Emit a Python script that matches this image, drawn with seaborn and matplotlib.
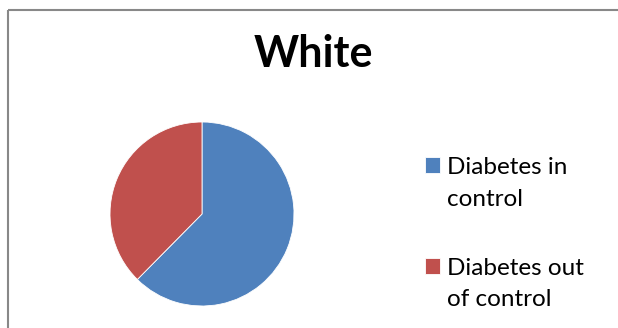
import matplotlib
matplotlib.use("Agg")
import matplotlib.pyplot as plt
import seaborn as sns
from matplotlib.lines import Line2D
from matplotlib.patches import Rectangle
from matplotlib.legend_handler import HandlerPatch

categories = ["Diabetes in\ncontrol", "Diabetes out\nof control"]
values = [62.4, 37.6]
colors = ["#4F81BD", "#C0504D"]
title = "White"

sns.set_theme(style="white")
plt.rcParams['font.family'] = ['Lato', 'DejaVu Sans']
plt.rcParams['text.color'] = 'black'

W, H = 618, 328
fig = plt.figure(figsize=(W / 100, H / 100), dpi=100)
fig.patch.set_facecolor("white")

cx, cy, r = 202, 214, 92
ax = fig.add_axes([(cx - r) / W, (H - cy - r) / H, 2 * r / W, 2 * r / H])
wedges, _ = ax.pie(values, colors=colors, startangle=90, counterclock=False,
                   radius=1, wedgeprops=dict(edgecolor="white", linewidth=0.6))
ax.set_xlim(-1, 1)
ax.set_ylim(-1, 1)
ax.set_aspect("equal")
ax.axis("off")

fig.text(313 / W, 1 - 67 / H, title, ha="center", va="baseline",
         fontsize=31, fontweight="bold", color="black")

fs = 17.5
SHIFT = 0.74


def square_up(legend, orig_handle, xdescent, ydescent, width, height, fontsize):
    return Rectangle((-xdescent, -ydescent + SHIFT * fontsize), width, height)


handler = HandlerPatch(patch_func=square_up)
leg = fig.legend(wedges, categories, loc="upper left",
                 bbox_to_anchor=(425 / W, 1 - 157 / H), frameon=False, fontsize=fs,
                 handlelength=0.62, handleheight=0.62, handletextpad=0.3,
                 labelspacing=1.97, borderpad=0, borderaxespad=0,
                 handler_map={w: handler for w in wedges})
for t in leg.get_texts():
    t.set_linespacing(1.63)
    t.set_color("black")

y_top = 1 - 10 / H
x_left = 7.5 / W
fig.add_artist(Line2D([x_left, 1.02], [y_top, y_top], transform=fig.transFigure,
                      color="#888888", linewidth=1.5, solid_capstyle="butt"))
fig.add_artist(Line2D([x_left, x_left], [-0.02, y_top], transform=fig.transFigure,
                      color="#888888", linewidth=1.5, solid_capstyle="butt"))

fig.savefig("out.png", dpi=100)
